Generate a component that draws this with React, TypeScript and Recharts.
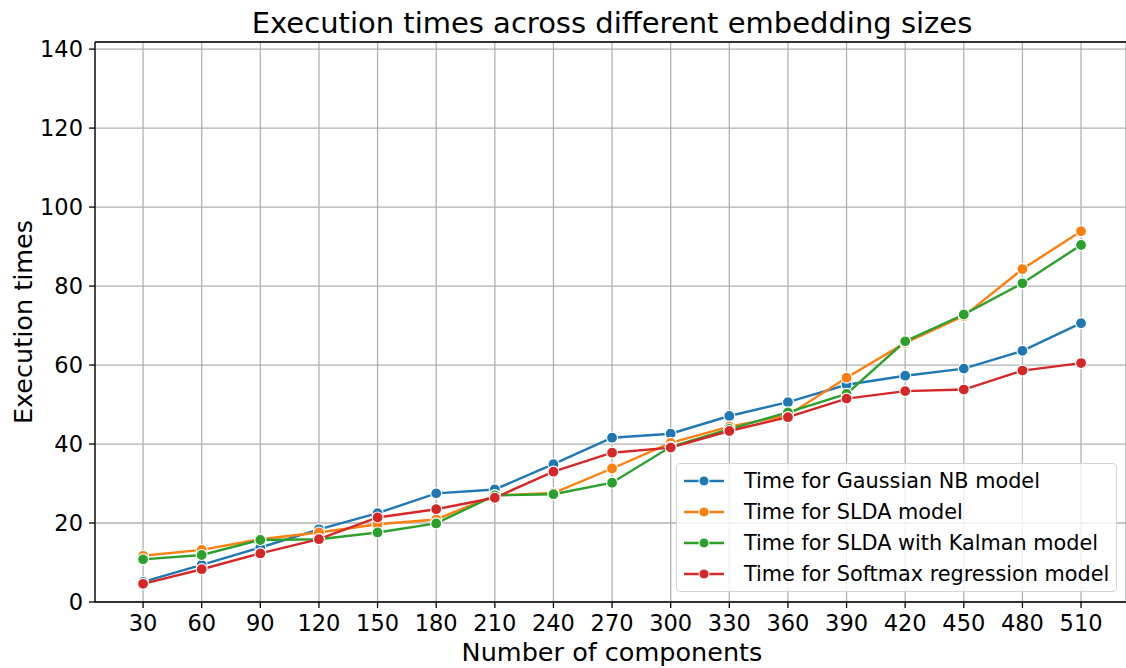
import React from "react";
import { LineChart, Line, XAxis, YAxis, CartesianGrid, ReferenceLine } from "recharts";

// Number of components on the x axis
const components = [30, 60, 90, 120, 150, 180, 210, 240, 270, 300, 330, 360, 390, 420, 450, 480, 510];

// Execution times per model
const gaussianNB = [5.1, 9.4, 13.8, 18.4, 22.5, 27.5, 28.5, 34.9, 41.6, 42.6, 47.1, 50.6, 55.0, 57.3, 59.1, 63.6, 70.6];
const slda = [11.7, 13.2, 15.9, 17.6, 19.7, 20.9, 27.0, 27.6, 33.8, 40.3, 44.4, 47.3, 56.8, 65.6, 72.4, 84.3, 93.9];
const sldaKalman = [10.8, 11.9, 15.7, 15.9, 17.6, 19.9, 27.0, 27.3, 30.2, 39.3, 43.8, 48.0, 52.7, 66.0, 72.8, 80.7, 90.4];
const softmax = [4.6, 8.3, 12.3, 15.9, 21.4, 23.5, 26.4, 33.0, 37.8, 39.1, 43.3, 46.8, 51.5, 53.4, 53.8, 58.6, 60.5];

const yTicks = [0, 20, 40, 60, 80, 100, 120, 140];

const seriesNames = [
  "Time for Gaussian NB model",
  "Time for SLDA model",
  "Time for SLDA with Kalman model",
  "Time for Softmax regression model",
];
const seriesKeys = ["gnb", "slda", "kalman", "softmax"];
const colors = ["#1f77b4", "#ff7f0e", "#2ca02c", "#d62728"];

const data = components.map((c, i) => ({
  n: c,
  gnb: gaussianNB[i],
  slda: slda[i],
  kalman: sldaKalman[i],
  softmax: softmax[i],
}));

const FONT = "'DejaVu Sans', sans-serif";
const Y_MAX = 141.8;

const Dot = (props: any) => {
  const { cx, cy, stroke } = props;
  if (cx == null || cy == null) return null;
  return <circle cx={cx} cy={cy} r={5.5} fill={stroke} stroke="#ffffff" strokeWidth={1.2} />;
};

export default function App() {
  return (
    <div style={{ position: "absolute", left: 0, top: 0, width: 1126, height: 668, background: "#ffffff", fontFamily: FONT, overflow: "hidden" }}>
      <div
        style={{
          position: "absolute",
          left: 0,
          width: 1224,
          top: 6,
          textAlign: "center",
          fontSize: 29,
          color: "#000",
          lineHeight: "34px",
        }}
      >
        Execution times across different embedding sizes
      </div>
      <div
        style={{
          position: "absolute",
          left: 0,
          width: 1224,
          top: 637,
          textAlign: "center",
          fontSize: 25.5,
          color: "#000",
          lineHeight: "30px",
        }}
      >
        Number of components
      </div>
      <div
        style={{
          position: "absolute",
          left: 22.5,
          top: 322,
          transform: "translate(-50%, -50%) rotate(-90deg)",
          fontSize: 25.5,
          whiteSpace: "nowrap",
          color: "#000",
        }}
      >
        Execution times
      </div>
      <div style={{ position: "absolute", left: 0, top: 0 }}>
        <LineChart width={1126} height={668} data={data} margin={{ top: 42, right: 0, bottom: 0, left: 0 }}>
          <CartesianGrid stroke="#b0b0b0" strokeWidth={1.3} />
          <XAxis
            dataKey="n"
            type="number"
            domain={[5.4, 533]}
            ticks={components}
            allowDataOverflow
            height={66}
            stroke="#000"
            strokeWidth={1.3}
            tickSize={6}
            tickMargin={7}
            tick={{ fontSize: 22.5, fill: "#000", fontFamily: FONT }}
            tickLine={{ stroke: "#000", strokeWidth: 1.3 }}
          />
          <YAxis
            type="number"
            domain={[0, Y_MAX]}
            ticks={yTicks}
            allowDataOverflow
            width={95}
            stroke="#000"
            strokeWidth={1.3}
            tickSize={6}
            tickMargin={6}
            tick={{ fontSize: 22.5, fill: "#000", fontFamily: FONT }}
            tickLine={{ stroke: "#000", strokeWidth: 1.3 }}
          />
          <ReferenceLine y={Y_MAX} stroke="#000" strokeWidth={1.3} ifOverflow="visible" />
          {seriesKeys.map((k, i) => (
            <Line
              key={k}
              dataKey={k}
              name={seriesNames[i]}
              stroke={colors[i]}
              strokeWidth={2.4}
              dot={<Dot />}
              activeDot={false}
              isAnimationActive={false}
            />
          ))}
        </LineChart>
      </div>
      <div
        style={{
          position: "absolute",
          left: 676,
          top: 463,
          width: 441,
          height: 129,
          border: "1px solid #d5d5d5",
          borderRadius: 4,
          background: "rgba(255,255,255,0.8)",
          boxSizing: "border-box",
          paddingTop: 2,
        }}
      >
        {seriesNames.map((name, i) => (
          <div key={name} style={{ display: "flex", alignItems: "center", height: 30.8 }}>
            <svg width={60} height={20} style={{ marginLeft: 7, flex: "none" }}>
              <line x1={0} y1={10} x2={40} y2={10} stroke={colors[i]} strokeWidth={2.4} />
              <circle cx={20} cy={10} r={5} fill={colors[i]} stroke="#fff" strokeWidth={1} />
            </svg>
            <span style={{ fontSize: 20.8, color: "#000", whiteSpace: "nowrap" }}>{name}</span>
          </div>
        ))}
      </div>
    </div>
  );
}
